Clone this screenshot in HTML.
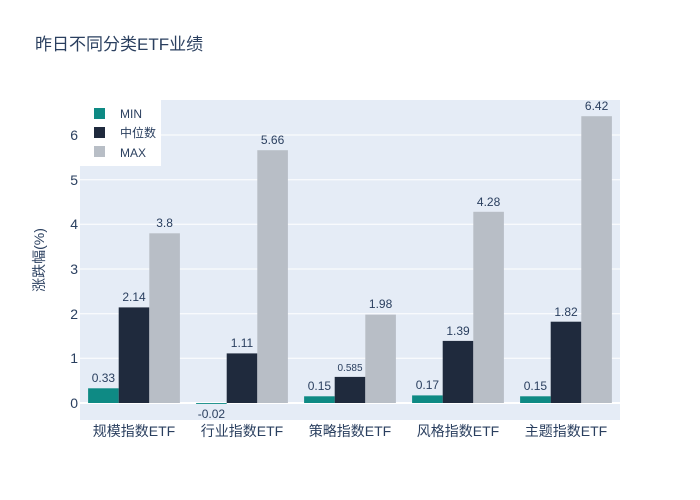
<!DOCTYPE html><html><head><meta charset="utf-8"><style>body{margin:0;background:#fff}svg{display:block;font-family:"Liberation Sans","Noto Sans CJK SC",sans-serif}</style></head><body>
<svg width="700" height="500" xmlns="http://www.w3.org/2000/svg">
<rect width="700" height="500" fill="#fff"/>
<rect x="80" y="100" width="540" height="320" fill="#e5ecf6"/>
<g stroke="#fff" stroke-width="1">
<line x1="80" x2="620" y1="358.3" y2="358.3"/><line x1="80" x2="620" y1="313.7" y2="313.7"/><line x1="80" x2="620" y1="269" y2="269"/><line x1="80" x2="620" y1="224.3" y2="224.3"/><line x1="80" x2="620" y1="179.7" y2="179.7"/><line x1="80" x2="620" y1="135" y2="135"/>
</g>
<line x1="80" x2="620" y1="403" y2="403" stroke="#fff" stroke-width="2"/>
<g id="bars">
<rect x="88.1" y="388.3" width="30.6" height="14.7" fill="#0e8a84"/>
<rect x="118.7" y="307.4" width="30.6" height="95.6" fill="#1f2a3d"/>
<rect x="149.3" y="233.3" width="30.6" height="169.7" fill="#b8bec6"/>
<rect x="196.1" y="403" width="30.6" height="0.9" fill="#0e8a84"/>
<rect x="226.7" y="353.4" width="30.6" height="49.6" fill="#1f2a3d"/>
<rect x="257.3" y="150.2" width="30.6" height="252.8" fill="#b8bec6"/>
<rect x="304.1" y="396.3" width="30.6" height="6.7" fill="#0e8a84"/>
<rect x="334.7" y="376.9" width="30.6" height="26.1" fill="#1f2a3d"/>
<rect x="365.3" y="314.6" width="30.6" height="88.4" fill="#b8bec6"/>
<rect x="412.1" y="395.4" width="30.6" height="7.6" fill="#0e8a84"/>
<rect x="442.7" y="340.9" width="30.6" height="62.1" fill="#1f2a3d"/>
<rect x="473.3" y="211.8" width="30.6" height="191.2" fill="#b8bec6"/>
<rect x="520.1" y="396.3" width="30.6" height="6.7" fill="#0e8a84"/>
<rect x="550.7" y="321.7" width="30.6" height="81.3" fill="#1f2a3d"/>
<rect x="581.3" y="116.2" width="30.6" height="286.8" fill="#b8bec6"/>
</g>
<g font-size="12" fill="#2a3f5f" text-anchor="middle">
<text x="103.4" y="382">0.33</text><text x="134" y="301">2.14</text><text x="164.6" y="227">3.8</text>
<text x="211.4" y="418">-0.02</text><text x="242" y="347">1.11</text><text x="272.6" y="144">5.66</text>
<text x="319.4" y="390">0.15</text><text x="350" y="371" font-size="10">0.585</text><text x="380.6" y="308">1.98</text>
<text x="427.4" y="389">0.17</text><text x="458" y="335">1.39</text><text x="488.6" y="206">4.28</text>
<text x="535.4" y="390">0.15</text><text x="566" y="316">1.82</text><text x="596.6" y="110">6.42</text>
</g>
<g font-size="14" fill="#2a3f5f" text-anchor="end">
<text x="78" y="408">0</text><text x="78" y="363">1</text><text x="78" y="319">2</text><text x="78" y="274">3</text><text x="78" y="229">4</text><text x="78" y="185">5</text><text x="78" y="140">6</text>
</g>
<g font-size="14" fill="#2a3f5f" text-anchor="middle">
<text x="134" y="436">规模指数ETF</text><text x="242" y="436">行业指数ETF</text><text x="350" y="436">策略指数ETF</text><text x="458" y="436">风格指数ETF</text><text x="566" y="436">主题指数ETF</text>
</g>
<text transform="translate(44,260) rotate(-90)" font-size="14" fill="#2a3f5f" text-anchor="middle">涨跌幅(%)</text>
<text x="35" y="50" font-size="17" fill="#2a3f5f">昨日不同分类ETF业绩</text>
<rect x="80" y="100" width="81" height="66" fill="#fff"/>
<rect x="94" y="108" width="11" height="11" fill="#0e8a84"/>
<rect x="94" y="127" width="11" height="11" fill="#1f2a3d"/>
<rect x="94" y="146" width="11" height="11" fill="#b8bec6"/>
<g font-size="12" fill="#2a3f5f"><text x="120" y="118">MIN</text><text x="120" y="137">中位数</text><text x="120" y="157">MAX</text></g>
</svg></body></html>
